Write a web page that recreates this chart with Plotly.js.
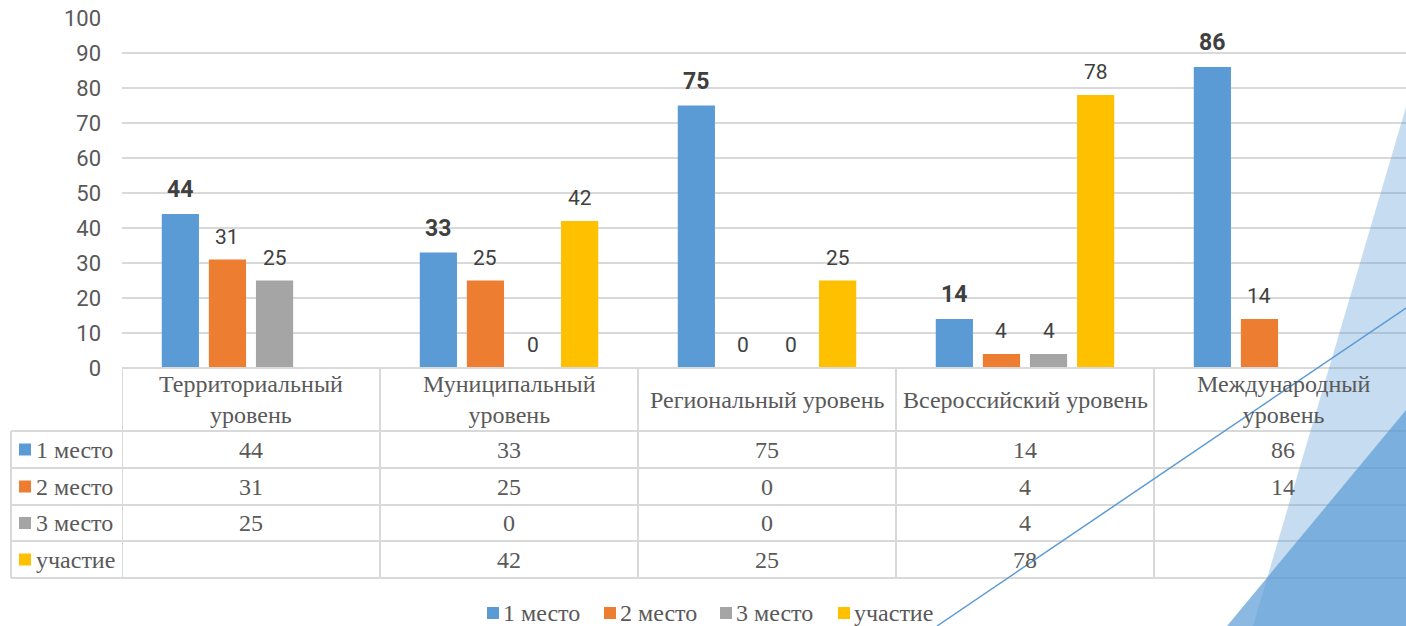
<!DOCTYPE html>
<html>
<head>
<meta charset="utf-8">
<script src="https://cdn.plot.ly/plotly-3.0.1.min.js"></script>
<style>html,body{margin:0;padding:0;background:#fff;overflow:hidden;width:1406px;height:626px;}#chart{width:1406px;height:626px;display:block;}</style>
</head>
<body>
<div id="chart"></div>
<script>
// ---- data ----
const categories = ['Территориальный уровень', 'Муниципальный уровень', 'Региональный уровень', 'Всероссийский уровень', 'Международный уровень'];
const headerLabels = ['Территориальный<br>уровень', 'Муниципальный<br>уровень', 'Региональный уровень', 'Всероссийский уровень', 'Международный<br>уровень'];
const seriesNames = ['1 место', '2 место', '3 место', 'участие'];
const place1 = [44, 33, 75, 14, 86];
const place2 = [31, 25, 0, 4, 14];
const place3 = [25, 0, 0, 4, null];
const participation = [null, 42, 25, 78, null];
const yTicks = [0, 10, 20, 30, 40, 50, 60, 70, 80, 90, 100];

// ---- styles ----
const seriesValues = [place1, place2, place3, participation];
const seriesColors = ['#5b9bd5', '#ed7d31', '#a5a5a5', '#ffc000'];
const W = 1406, H = 626;
const px = x => x / W;
const py = y => 1 - y / H;
const serif = 'Liberation Serif, Times New Roman, serif';
const sans = 'Roboto, Liberation Sans, sans-serif';
const gridCol = '#d9d9d9';
const bargap = 0.27, bargroupgap = 0.21;
const legendItemLeft = [487, 604, 720, 838];
const legendY = 613;

const traces = seriesValues.map((vals, j) => ({
  type: 'bar',
  name: seriesNames[j],
  x: categories,
  y: vals,
  marker: {color: seriesColors[j]},
  hoverinfo: 'skip',
  showlegend: false
}));

const annotations = [];
const shapes = [];

// data labels above bars
const slot = (1 - bargap) / seriesValues.length;
seriesValues.forEach((vals, j) => {
  vals.forEach((v, i) => {
    if (v === null) return;
    annotations.push({
      xref: 'x', yref: 'y', x: i + (j - (seriesValues.length - 1) / 2) * slot, y: v,
      text: String(v), showarrow: false, yanchor: 'bottom', yshift: 9,
      font: j === 0 ? {family: sans, size: 23, color: '#404040', weight: 'bold'} : {family: sans, size: 21, color: '#404040'}
    });
  });
});

// data table
const headerTop = 368, headerBot = 431;
const rowBounds = [431, 468, 505, 541, 578];
const tableLeft = 11;
const line = {color: gridCol, width: 2};
const tableFont = {family: serif, size: 24, color: '#595959'};
for (let k = 0; k <= categories.length; k++) {
  shapes.push({type: 'line', xref: 'x', yref: 'paper', x0: k - 0.5, x1: k - 0.5, y0: py(headerTop), y1: py(rowBounds[rowBounds.length - 1]), line});
}
shapes.push({type: 'line', xref: 'paper', yref: 'paper', x0: px(tableLeft), x1: px(tableLeft), y0: py(rowBounds[0]), y1: py(rowBounds[rowBounds.length - 1]), line});
shapes.push({type: 'line', xref: 'x', yref: 'paper', x0: -0.5, x1: categories.length - 0.5, y0: py(headerTop), y1: py(headerTop), line});
rowBounds.forEach(y => {
  shapes.push({type: 'line', xref: 'paper', yref: 'paper', x0: px(tableLeft), x1: 1, y0: py(y), y1: py(y), line});
});
headerLabels.forEach((t, i) => {
  annotations.push({xref: 'x', yref: 'paper', x: i, y: py((headerTop + headerBot) / 2), text: t, showarrow: false,
    yanchor: 'middle', xanchor: 'center', font: tableFont});
});
seriesValues.forEach((vals, j) => {
  const yc = (rowBounds[j] + rowBounds[j + 1]) / 2;
  shapes.push({type: 'rect', xref: 'paper', yref: 'paper', x0: px(19), x1: px(31), y0: py(yc + 6), y1: py(yc - 6),
    fillcolor: seriesColors[j], line: {width: 0}});
  annotations.push({xref: 'paper', yref: 'paper', x: px(34), y: py(yc), text: seriesNames[j], showarrow: false,
    xanchor: 'left', yanchor: 'middle', font: tableFont});
  vals.forEach((v, i) => {
    if (v === null) return;
    annotations.push({xref: 'x', yref: 'paper', x: i, y: py(yc), text: String(v), showarrow: false,
      xanchor: 'center', yanchor: 'middle', font: tableFont});
  });
});

// legend (bottom)
seriesNames.forEach((name, j) => {
  const x0 = legendItemLeft[j];
  shapes.push({type: 'rect', xref: 'paper', yref: 'paper', x0: px(x0), x1: px(x0 + 12), y0: py(legendY + 6), y1: py(legendY - 6),
    fillcolor: seriesColors[j], line: {width: 0}});
  annotations.push({xref: 'paper', yref: 'paper', x: px(x0 + 14), y: py(legendY), text: name, showarrow: false,
    xanchor: 'left', yanchor: 'middle', font: tableFont});
});

// decorative slide shapes
shapes.push({type: 'path', xref: 'paper', yref: 'paper', layer: 'above',
  path: `M ${px(1406)},${py(107)} L ${px(1253)},${py(626)} L ${px(1406)},${py(626)} Z`,
  fillcolor: 'rgba(91,155,213,0.35)', line: {width: 0}});
shapes.push({type: 'path', xref: 'paper', yref: 'paper', layer: 'above',
  path: `M ${px(1227)},${py(626)} L ${px(1406)},${py(410)} L ${px(1406)},${py(626)} Z`,
  fillcolor: 'rgba(91,155,213,0.7)', line: {width: 0}});
shapes.push({type: 'line', xref: 'paper', yref: 'paper', layer: 'above',
  x0: px(937), y0: py(626), x1: px(1406), y1: py(308), line: {color: '#5b9bd5', width: 1.5}});

const layout = {
  width: W, height: H,
  margin: {l: 0, r: 0, t: 0, b: 0, pad: 0},
  paper_bgcolor: '#ffffff', plot_bgcolor: '#ffffff',
  barmode: 'group', bargap: bargap, bargroupgap: bargroupgap,
  showlegend: false,
  xaxis: {type: 'category', domain: [px(122), 1], range: [-0.5, -0.5 + (W - 122) / 258],
    showticklabels: false, showgrid: false, zeroline: false, showline: false, fixedrange: true},
  yaxis: {domain: [py(368), py(18)], range: [0, 100], tickvals: yTicks, ticktext: yTicks.map(String),
    showgrid: true, gridcolor: gridCol, gridwidth: 2, zeroline: false, showline: false, ticks: '',
    ticklabelstandoff: 20, tickfont: {family: sans, size: 22, color: '#595959'}, fixedrange: true},
  shapes: shapes,
  annotations: annotations
};

Plotly.newPlot('chart', traces, layout, {displayModeBar: false, staticPlot: true});
</script>
</body>
</html>
